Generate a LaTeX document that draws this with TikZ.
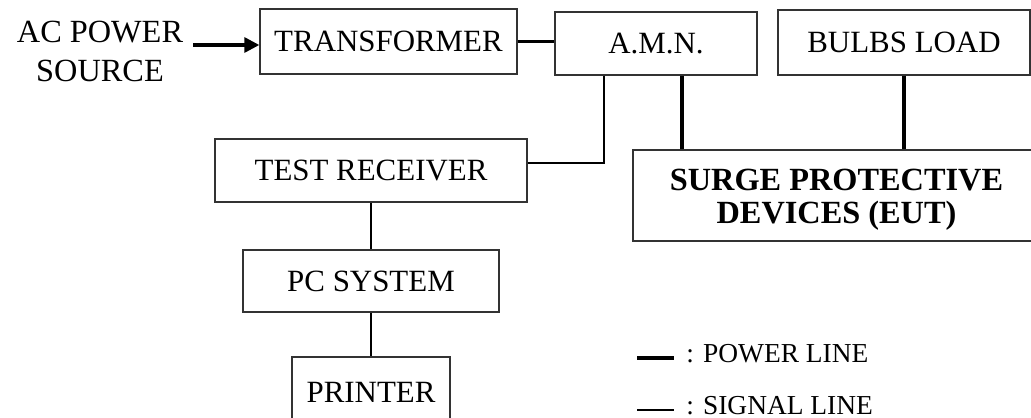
\documentclass[tikz,border=0pt]{standalone}
\usepackage{fontspec}
\setmainfont{Liberation Serif}
\usetikzlibrary{arrows.meta}
\begin{document}
\begin{tikzpicture}[x=0.02cm,y=-0.02cm,
  box/.style={draw=black!80, line width=0.8pt, inner sep=0pt, align=center,
    font=\fontsize{17.6pt}{18.8pt}\selectfont},
  power/.style={line width=2.1pt},
  signal/.style={line width=0.75pt},
  lbl/.style={font=\fontsize{15.6pt}{18pt}\selectfont, inner sep=0pt}]
\clip (0,0) rectangle (1031,418);
\useasboundingbox (0,0) rectangle (1031,418);
% source text
\node[inner sep=0pt, align=center, font=\fontsize{18.4pt}{22.2pt}\selectfont] (src) at (100,51) {AC POWER\\SOURCE};
% boxes
\node[box, minimum width=5.14cm, minimum height=1.30cm] (trf) at (388.5,41.5) {TRANSFORMER};
\node[box, minimum width=4.04cm, minimum height=1.26cm] (amn) at (656,43.5) {A.M.N.};
\node[box, minimum width=5.04cm, minimum height=1.30cm] (bulbs) at (904,42.5) {BULBS LOAD};
\node[box, minimum width=6.24cm, minimum height=1.26cm] (tr) at (371,170.5) {TEST RECEIVER};
\node[box, minimum width=5.12cm, minimum height=1.24cm] (pc) at (371,281) {PC SYSTEM};
\node[box, minimum width=3.16cm, minimum height=1.42cm] (prn) at (371,392.5) {PRINTER};
\node[box, minimum width=8.14cm, minimum height=1.82cm] (surge) at (836.5,195.5) {};
\node[inner sep=0pt, align=center, font=\fontsize{18.4pt}{18.8pt}\selectfont\bfseries] (surgetxt) at (836.5,200) {SURGE PROTECTIVE\\DEVICES (EUT)};
% connectors
\coordinate (a1) at (193,45);
\draw[line width=1.8pt, -{Triangle[length=0.3cm,width=0.3cm]}] (a1) -- (a1 -| trf.west);
\draw[power] (trf.east) -- (trf.east -| amn.west);
\draw[signal] ([xshift=-1.04cm]amn.south) |- ([yshift=0.15cm]tr.east);
\draw[power] ([xshift=0.52cm]amn.south) -- ([xshift=0.52cm]amn.south |- surge.north);
\draw[power] (bulbs.south) -- (bulbs.south |- surge.north);
\draw[signal] (tr.south) -- (pc.north);
\draw[signal] (pc.south) -- (prn.north);
% legend
\coordinate (p1) at (637,358);
\coordinate (p2) at (674,358);
\draw[power] (p1) -- (p2);
\node[lbl, anchor=base west] (plbl) at (686,363) {: POWER LINE};
\coordinate (s1) at (637,410);
\coordinate (s2) at (674,410);
\draw[signal] (s1) -- (s2);
\node[lbl, anchor=base west] (slbl) at (686,415) {: SIGNAL LINE};
\end{tikzpicture}
\end{document}
